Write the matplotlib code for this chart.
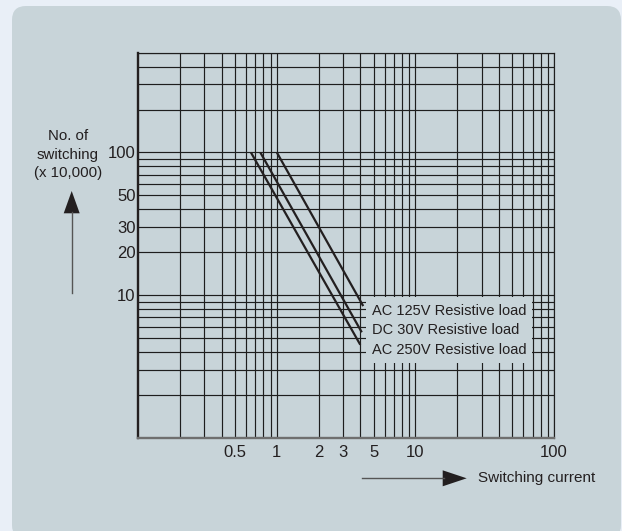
"""Relay life curve: number of switchings vs switching current (log-log)."""
import matplotlib
matplotlib.use("Agg")
import matplotlib.pyplot as plt
from matplotlib.patches import FancyBboxPatch, Polygon
from matplotlib.lines import Line2D
from matplotlib.transforms import IdentityTransform
from matplotlib.ticker import NullFormatter

plt.rcParams["font.family"] = ["Liberation Sans", "DejaVu Sans"]

# curve end points: (current A, switchings x10,000)
SERIES = ["AC 125V Resistive load", "DC 30V Resistive load", "AC 250V Resistive load"]
CURRENT = [[1.0, 4.2], [0.76, 4.1], [0.65, 4.0]]
SWITCHINGS = [[100, 8.4], [100, 5.5], [100, 4.5]]

X_TICKS = [0.5, 1, 2, 3, 5, 10, 100]
X_LABELS = ["0.5", "1", "2", "3", "5", "10", "100"]
Y_TICKS = [10, 20, 30, 50, 100]
Y_LABELS = ["10", "20", "30", "50", "100"]

OUTER = "#e9eff7"
PANEL = "#c8d4d9"
INK = "#231f20"
GRID = "#1e1e1e"

W, H = 622, 531
fig = plt.figure(figsize=(W / 100, H / 100), dpi=100)
fig.patch.set_facecolor(OUTER)

# rounded background panel (pixel coords, origin bottom-left)
panel = FancyBboxPatch((12, -8), 609, 533, boxstyle="round,pad=0,rounding_size=14",
                       transform=IdentityTransform(), fc=PANEL, ec="none", zorder=-10)
fig.add_artist(panel)

left, right, top, bottom = 138.3, 554, 52.7, 438
ax = fig.add_axes([left / W, (H - bottom) / H, (right - left) / W, (bottom - top) / H])
ax.set_facecolor("none")
ax.set_xscale("log")
ax.set_yscale("log")
ax.set_xlim(0.1, 100)
ax.set_ylim(1, 500)

ax.grid(True, which="both", color=GRID, lw=0.85)
ax.set_axisbelow(True)

for xs, ys in zip(CURRENT, SWITCHINGS):
    ax.plot(xs, ys, color=INK, lw=1.6, solid_capstyle="butt", zorder=3)

ax.text(4.83, 5.7, "\n".join(SERIES), fontsize=10.5, color=INK, va="center", ha="left",
        linespacing=1.5, zorder=4,
        bbox=dict(boxstyle="square,pad=0.42", fc=PANEL, ec="none"))

ax.set_xticks(X_TICKS)
ax.set_xticklabels(X_LABELS)
ax.set_yticks(Y_TICKS)
ax.set_yticklabels(Y_LABELS)
ax.xaxis.set_minor_formatter(NullFormatter())
ax.yaxis.set_minor_formatter(NullFormatter())
ax.tick_params(which="both", length=0, labelsize=12, labelcolor=INK)
ax.tick_params(axis="x", pad=5)
ax.tick_params(axis="y", pad=2)

ax.spines["left"].set_color(INK)
ax.spines["left"].set_linewidth(1.7)
ax.spines["bottom"].set_color("#6f6f6f")
ax.spines["bottom"].set_linewidth(1.7)
for s in ("top", "right"):
    ax.spines[s].set_color(GRID)
    ax.spines[s].set_linewidth(0.85)

# axis captions
fig.text(68 / W, 1 - 154.5 / H, "No. of\nswitching\n(x 10,000)", fontsize=10.8,
         color=INK, ha="center", va="center", linespacing=1.4)
fig.text(478.3 / W, 1 - 478 / H, "Switching current", fontsize=11, color=INK,
         ha="left", va="center")

# up arrow
fig.add_artist(Line2D([71.7, 71.7], [H - 293.3, H - 212], color="#555555", lw=1.0,
                      transform=IdentityTransform()))
fig.add_artist(Polygon([[63.7, H - 213.3], [79.7, H - 213.3], [71.7, H - 191]],
                       closed=True, fc=INK, ec="none", transform=IdentityTransform()))
# right arrow
fig.add_artist(Line2D([362.3, 444], [H - 478.3, H - 478.3], color="#555555", lw=1.0,
                      transform=IdentityTransform()))
fig.add_artist(Polygon([[442.7, H - 470.3], [442.7, H - 486.3], [466.7, H - 478.3]],
                       closed=True, fc=INK, ec="none", transform=IdentityTransform()))

fig.savefig("out.png", dpi=100, facecolor=fig.get_facecolor())
